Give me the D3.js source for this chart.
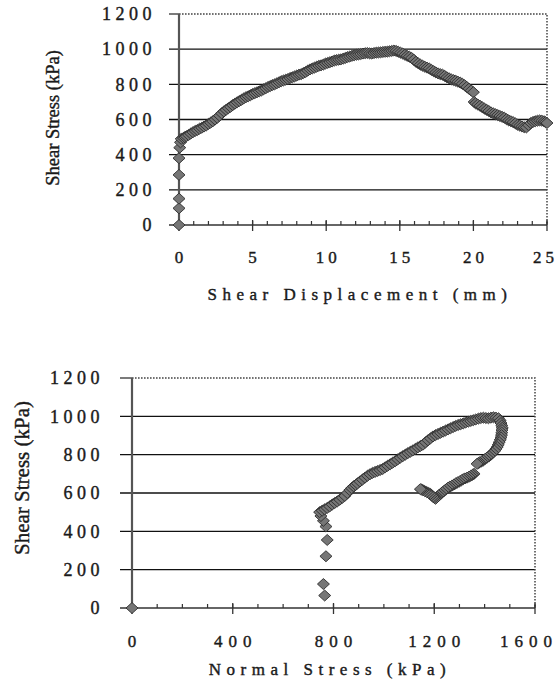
<!DOCTYPE html>
<html>
<head>
<meta charset="utf-8">
<script src="https://cdnjs.cloudflare.com/ajax/libs/d3/7.8.5/d3.min.js"></script>
<style>
	body { margin: 0; background: #fff; }
	text { font-family: "Liberation Serif", "Times New Roman", serif; fill: #1a1a1a; stroke: #1a1a1a; stroke-width: 0.4px; }
</style>
</head>
<body>
<div id="container"></div>
<script>
// top chart: shear displacement (mm) vs shear stress (kPa)
var dispMm = [0, 0, 0, 0, 0, 0.05, 0.1, 0.15,
	0.3, 0.4, 0.5, 0.65, 0.8, 0.95, 1.1, 1.25, 1.4, 1.55, 1.7, 1.85, 2.0, 2.15,
	2.3, 2.45, 2.6, 2.75, 2.9, 3.05, 3.2, 3.35, 3.5, 3.65, 3.8, 3.95, 4.1, 4.25,
	4.4, 4.55, 4.7, 4.85, 5.0, 5.15, 5.3, 5.45, 5.6, 5.75, 5.9, 6.05, 6.2, 6.35,
	6.5, 6.65, 6.8, 6.95, 7.1, 7.25, 7.4, 7.55, 7.7, 7.85, 8.0, 8.15, 8.3, 8.45,
	8.6, 8.75, 8.9, 9.05, 9.2, 9.35, 9.5, 9.65, 9.8, 9.95, 10.1, 10.25, 10.4, 10.55,
	10.7, 10.85, 11.0, 11.15, 11.3, 11.45, 11.6, 11.75, 11.9, 12.05, 12.2, 12.35, 12.5, 12.65,
	12.8, 12.95, 13.1, 13.25, 13.4, 13.55, 13.7, 13.85, 14.0, 14.15, 14.3, 14.45, 14.6, 14.75,
	14.9, 15.05, 15.2, 15.35, 15.5, 15.65, 15.8, 15.95, 16.1, 16.25, 16.4, 16.55, 16.7, 16.85,
	17.0, 17.15, 17.3, 17.45, 17.6, 17.75, 17.9, 18.05, 18.2, 18.35, 18.5, 18.65, 18.8, 18.95,
	19.1, 19.25, 19.4, 19.55, 19.7, 19.85, 20.0,
	20.05, 20.15, 20.3, 20.45, 20.6, 20.75, 20.9, 21.05, 21.2, 21.35, 21.5, 21.65, 21.8, 21.95,
	22.1, 22.25, 22.4, 22.55, 22.7, 22.85, 23.0, 23.15, 23.3, 23.45, 23.6, 23.75, 23.9, 24.05,
	24.2, 24.35, 24.5, 24.65, 24.8, 24.9, 25.0];
var dispShear = [0, 95, 150, 285, 380, 440, 470, 490,
	495, 500, 505, 512, 520, 528, 535, 540, 548, 553, 560, 566, 575, 582,
	590, 600, 610, 622, 635, 646, 655, 664, 672, 682, 690, 698, 705, 712,
	720, 727, 732, 738, 745, 750, 755, 760, 765, 772, 778, 785, 790, 796,
	800, 806, 812, 818, 822, 826, 830, 836, 840, 845, 850, 855, 858, 864,
	870, 878, 885, 890, 895, 900, 905, 908, 912, 918, 922, 926, 930, 935,
	938, 940, 942, 946, 950, 955, 958, 962, 965, 968, 970, 972, 975, 977,
	978, 976, 975, 978, 980, 981, 982, 984, 985, 986, 988, 990, 992, 990,
	985, 980, 975, 968, 962, 957, 950, 940, 928, 920, 912, 906, 900, 895,
	890, 882, 875, 868, 862, 858, 855, 848, 840, 834, 828, 824, 820, 815,
	810, 803, 795, 785, 775, 765, 755,
	700, 692, 685, 678, 670, 662, 655, 648, 640, 635, 630, 625, 620, 615,
	610, 602, 595, 590, 585, 578, 570, 565, 560, 556, 555, 568, 580, 586,
	590, 593, 595, 593, 590, 585, 580];

// bottom chart: normal stress (kPa) vs shear stress (kPa)
var normalKpa = [0, 765, 760, 770, 775, 770, 760, 750,
	745, 755, 765, 775, 785, 795, 805, 815, 825, 835, 845, 855, 865, 872,
	880, 888, 895, 905, 915, 925, 935, 945, 955, 965, 975, 985, 995, 1005,
	1015, 1025, 1035, 1045, 1055, 1065, 1075, 1085, 1095, 1105, 1115, 1125, 1135, 1145,
	1155, 1165, 1175, 1185, 1195, 1205, 1215, 1225, 1235, 1245, 1255, 1265, 1275, 1285,
	1295, 1305, 1315, 1325, 1335, 1345, 1355, 1365, 1375, 1385, 1395, 1405, 1415, 1425,
	1435, 1445, 1455,
	1462, 1465, 1468, 1470, 1469, 1468, 1467, 1465, 1462, 1458, 1454, 1450, 1445, 1440,
	1432, 1425, 1418, 1410, 1402, 1395, 1388, 1380, 1375, 1370,
	1358, 1352, 1345, 1338, 1330, 1322, 1315, 1308, 1300, 1292, 1285, 1278, 1270, 1262,
	1255, 1248, 1240, 1232, 1225, 1218, 1212, 1208, 1205, 1200, 1195, 1190, 1185, 1178,
	1170, 1162, 1155, 1150, 1145];
var normalShear = [0, 65, 125, 270, 355, 425, 455, 480,
	500, 508, 515, 522, 530, 540, 548, 556, 565, 575, 585, 600, 615, 625,
	635, 642, 650, 660, 670, 680, 690, 698, 705, 710, 715, 720, 725, 734,
	742, 750, 758, 766, 775, 784, 792, 800, 808, 815, 822, 830, 838, 845,
	852, 864, 875, 885, 895, 902, 908, 914, 920, 926, 932, 938, 944, 950,
	955, 959, 963, 968, 972, 976, 980, 984, 988, 991, 993, 991, 990, 993,
	995, 993, 990,
	978, 965, 952, 940, 928, 915, 902, 890, 878, 865, 852, 840, 830, 820,
	810, 800, 792, 785, 778, 770, 765, 760, 756, 752,
	700, 695, 690, 685, 680, 676, 672, 666, 660, 655, 650, 644, 638, 633,
	628, 620, 612, 604, 595, 588, 580, 575, 570, 575, 580, 588, 595, 600,
	605, 610, 615, 618, 620];

// ticks
var shearTicks = [0, 200, 400, 600, 800, 1000, 1200];
var dispTicks = [0, 5, 10, 15, 20, 25];
var dispMinor = d3.range(0, 26, 1);
var normalTicks = [0, 400, 800, 1200, 1600];
var normalMinor = d3.range(0, 1601, 100);

var W = 559, H = 692;

var svg = d3.select("#container").append("svg")
	.attr("width", W)
	.attr("height", H);

function diamond(w, h) {
	return "M0," + (-h / 2) + "L" + (w / 2) + ",0L0," + (h / 2) + "L" + (-w / 2) + ",0Z";
}

function drawChart(c) {
	var g = svg.append("g");

	var x = d3.scaleLinear().domain(c.xDomain).range([c.left, c.right]);
	var y = d3.scaleLinear().domain([0, 1200]).range([c.bottom, c.top]);

	// gridlines (+ outward ticks on the left)
	g.selectAll(".grid").data(c.yTicks.filter(function(d) { return d > 0 && d < 1200; }))
		.enter().append("line")
		.attr("x1", c.left - c.tick).attr("x2", c.right)
		.attr("y1", function(d) { return y(d); })
		.attr("y2", function(d) { return y(d); })
		.style("stroke", "#111").style("stroke-width", 1.4);

	// top and right border, dotted
	g.append("line")
		.attr("x1", c.left - c.tick).attr("x2", c.left)
		.attr("y1", y(1200)).attr("y2", y(1200))
		.style("stroke", "#333").style("stroke-width", 1.3);
	g.append("path")
		.attr("d", "M" + c.left + "," + y(1200) + "H" + c.right + "V" + c.bottom)
		.style("fill", "none").style("stroke", "#444")
		.style("stroke-width", 1.5).style("stroke-dasharray", "1.6,1.4");

	// y axis
	g.append("line")
		.attr("x1", c.left).attr("x2", c.left)
		.attr("y1", y(1200)).attr("y2", c.bottom)
		.style("stroke", "#555").style("stroke-width", 2.2);

	// x axis with minor (inside) and major (cross) ticks
	g.append("line")
		.attr("x1", c.left - c.tick).attr("x2", c.right)
		.attr("y1", c.bottom).attr("y2", c.bottom)
		.style("stroke", "#333").style("stroke-width", 1.7);
	g.selectAll(".minor").data(c.xMinor).enter().append("line")
		.attr("x1", function(d) { return x(d); }).attr("x2", function(d) { return x(d); })
		.attr("y1", c.bottom).attr("y2", c.bottom - 4)
		.style("stroke", "#333").style("stroke-width", 1.2);
	g.selectAll(".major").data(c.xTicks).enter().append("line")
		.attr("x1", function(d) { return x(d); }).attr("x2", function(d) { return x(d); })
		.attr("y1", c.bottom - 5).attr("y2", c.bottom + 6)
		.style("stroke", "#333").style("stroke-width", 1.3);

	// tick labels
	g.selectAll(".ylab").data(c.yTicks).enter().append("text")
		.attr("x", c.left + c.yLabDx)
		.attr("y", function(d) { return y(d); })
		.attr("dy", "0.35em")
		.style("text-anchor", "end")
		.style("font-size", "18px")
		.style("letter-spacing", c.yLabSpacing + "px")
		.text(function(d) { return d; });

	// last label is pulled in so it stays inside the page, like the original
	var xl = c.xTicks.length - 1;
	g.selectAll(".xlab").data(c.xTicks).enter().append("text")
		.attr("x", function(d, i) { return i == xl ? W - 1 : x(d) + c.xLabSpacing / 2; })
		.attr("y", c.xLabY)
		.style("text-anchor", function(d, i) { return i == xl ? "end" : "middle"; })
		.style("font-size", "17px")
		.style("letter-spacing", c.xLabSpacing + "px")
		.text(function(d) { return d; });

	// axis titles
	g.append("text")
		.attr("transform", "translate(" + c.yTitleX + "," + c.yTitleY + ") rotate(-90)")
		.style("text-anchor", "middle")
		.style("font-size", c.yTitleSize + "px")
		.text("Shear Stress (kPa)");

	g.append("text")
		.attr("x", c.xTitleX)
		.attr("y", c.xTitleY)
		.style("text-anchor", "middle")
		.style("font-size", "17px")
		.style("letter-spacing", c.xTitleSpacing + "px")
		.text(c.xTitle);

	// the data, drawn as Excel-like diamond markers
	var pts = c.xs.map(function(d, i) { return [d, c.ys[i]]; });
	g.selectAll(".dot").data(pts).enter().append("path")
		.attr("class", "dot")
		.attr("d", diamond(c.mw, c.mh))
		.attr("transform", function(d) { return "translate(" + x(d[0]) + "," + y(d[1]) + ")"; })
		.style("fill", "#767676")
		.style("stroke", "#2e2e2e")
		.style("stroke-width", 0.9);
}

drawChart({
	xDomain: [0, 25], left: 179, right: 547, top: 14, bottom: 225, tick: 10,
	xs: dispMm, ys: dispShear, mw: 12, mh: 11,
	yTicks: shearTicks, xTicks: dispTicks, xMinor: dispMinor,
	yLabDx: -23, yLabSpacing: 4.5, xLabSpacing: 4, xLabY: 263,
	yTitleX: 59, yTitleY: 118, yTitleSize: 18.5,
	xTitle: "Shear Displacement (mm)", xTitleX: 360, xTitleY: 300, xTitleSpacing: 5.5
});

drawChart({
	xDomain: [0, 1600], left: 132, right: 535, top: 378, bottom: 608, tick: 12,
	xs: normalKpa, ys: normalShear, mw: 12, mh: 11,
	yTicks: shearTicks, xTicks: normalTicks, xMinor: normalMinor,
	yLabDx: -28, yLabSpacing: 4.5, xLabSpacing: 6, xLabY: 647,
	yTitleX: 29, yTitleY: 478, yTitleSize: 21,
	xTitle: "Normal Stress (kPa)", xTitleX: 330, xTitleY: 675, xTitleSpacing: 5.5
});
</script>
</body>
</html>
